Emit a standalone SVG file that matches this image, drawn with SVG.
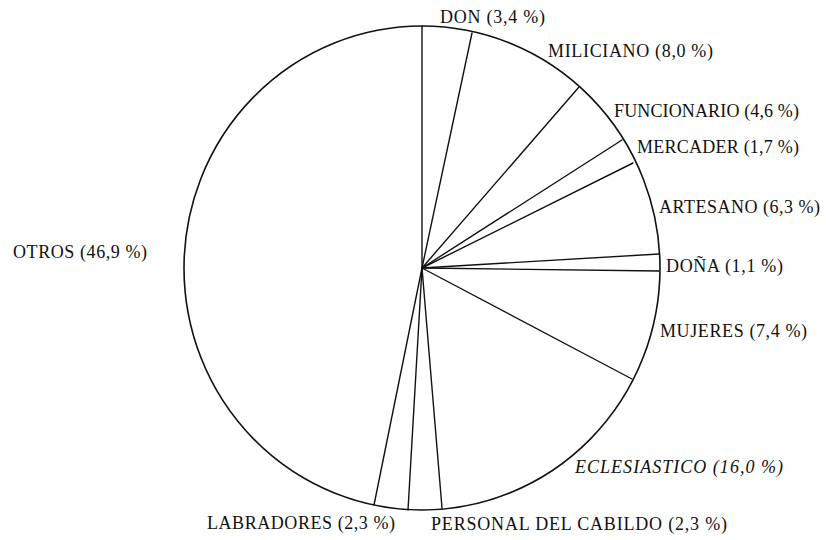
<svg xmlns="http://www.w3.org/2000/svg" width="826" height="540" viewBox="0 0 826 540">
<style>
.lbl{font-family:"Liberation Serif","Times New Roman",serif;font-size:18px;fill:#111;}
.it{font-style:italic;}
.sp{stroke:#111;stroke-width:1.4;fill:none;stroke-linecap:round;}
.rim{stroke:#111;stroke-width:1.6;fill:#fff;}
</style>
<rect width="826" height="540" fill="#fff"/>
<g id="pie">
<ellipse class="rim" cx="422" cy="268" rx="238" ry="242"/>
</g>
<g id="connectors">
<line class="sp" x1="422" y1="268" x2="422" y2="26"/>
<line class="sp" x1="422" y1="268" x2="472" y2="33"/>
<line class="sp" x1="422" y1="268" x2="579" y2="87"/>
<line class="sp" x1="422" y1="268" x2="622" y2="140"/>
<line class="sp" x1="422" y1="268" x2="633" y2="163"/>
<line class="sp" x1="422" y1="268" x2="659" y2="254"/>
<line class="sp" x1="422" y1="268" x2="659" y2="271"/>
<line class="sp" x1="422" y1="268" x2="632" y2="379"/>
<line class="sp" x1="422" y1="268" x2="442" y2="508"/>
<line class="sp" x1="422" y1="268" x2="408" y2="510"/>
<line class="sp" x1="422" y1="268" x2="374" y2="505"/>
</g>
<g id="don"><text class="lbl" x="440" y="23" textLength="105" lengthAdjust="spacing">DON (3,4 %)</text></g>
<g id="miliciano"><text class="lbl" x="548" y="57" textLength="165" lengthAdjust="spacing">MILICIANO (8,0 %)</text></g>
<g id="funcionario"><text class="lbl" x="614" y="117" textLength="185" lengthAdjust="spacing">FUNCIONARIO (4,6 %)</text></g>
<g id="mercader"><text class="lbl" x="637" y="153" textLength="162" lengthAdjust="spacing">MERCADER (1,7 %)</text></g>
<g id="artesano"><text class="lbl" x="659" y="213" textLength="161" lengthAdjust="spacing">ARTESANO (6,3 %)</text></g>
<g id="dona"><text class="lbl" x="666" y="272" textLength="117" lengthAdjust="spacing">DOÑA (1,1 %)</text></g>
<g id="mujeres"><text class="lbl" x="660" y="337" textLength="147" lengthAdjust="spacing">MUJERES (7,4 %)</text></g>
<g id="eclesiastico"><text class="lbl it" x="575" y="473" textLength="208" lengthAdjust="spacing">ECLESIASTICO (16,0 %)</text></g>
<g id="personal"><text class="lbl" x="431" y="530" textLength="296" lengthAdjust="spacing">PERSONAL DEL CABILDO (2,3 %)</text></g>
<g id="labradores"><text class="lbl" x="207" y="529" textLength="188" lengthAdjust="spacing">LABRADORES (2,3 %)</text></g>
<g id="otros"><text class="lbl" x="13" y="258" textLength="134" lengthAdjust="spacing">OTROS (46,9 %)</text></g>
</svg>
